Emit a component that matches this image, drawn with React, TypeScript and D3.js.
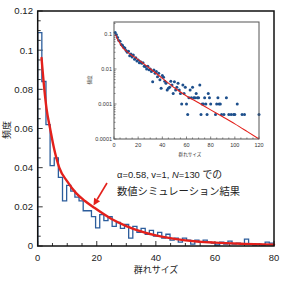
import React from 'react';
import * as d3 from 'd3';

// ---- main histogram (bin width in group-size units) ----
const histBinWidth = 1.4;
const histFreq = [
  0.109, 0.084, 0.062, 0.041, 0.045, 0.035, 0.023, 0.031, 0.028, 0.025,
  0.023, 0.018, 0.018, 0.015, 0.0093, 0.016, 0.013, 0.015, 0.010, 0.012,
  0.009, 0.011, 0.004, 0.010, 0.007, 0.009, 0.006, 0.008, 0.005, 0.007,
  0.004, 0.006, 0.003, 0.004, 0.002, 0.004, 0.003, 0.001, 0.003, 0.002,
  0.003, 0.002, 0.0015, 0.0005, 0.002, 0.001, 0.0025, 0.001, 0.0015, 0.001,
  0.0035, 0.001, 0.0005, 0.001, 0.0005, 0.002, 0.0015,
];

// ---- fitted curve ----
const fitSizes = [1.3, 2.25, 3, 4.2, 5.5, 7.3, 10, 13, 16, 19.2, 25, 30, 40, 50, 60, 70, 80, 90, 100, 110, 120];
const fitFreq = [
  0.096, 0.08, 0.07, 0.06, 0.05, 0.04, 0.033, 0.027, 0.023, 0.0195, 0.0138,
  0.0102, 0.0054, 0.0029, 0.0017, 0.00108, 0.00068, 0.00043, 0.00027, 0.000165, 0.0001,
];

// ---- inset scatter (log scale) ----
const insetSizes = [
  1, 2, 3, 4, 5, 6, 7, 8, 9, 10, 11, 12, 13, 14, 15, 16, 17, 18, 19, 20,
  21, 22, 23, 24, 25, 26, 27, 28, 29, 30, 31, 32, 33, 34, 35, 36, 37, 38, 39, 40,
  41, 42, 43, 44, 45, 46, 47, 48, 49, 50, 51, 52, 53, 54, 55, 56, 57, 58, 59, 60,
  61, 62, 63, 64, 65, 66, 67, 68, 69, 70, 71, 72, 73, 74, 75, 76, 77, 78, 79, 80,
  84, 85, 86, 87, 88, 89, 91, 93, 95, 97, 99, 100, 102, 106, 108, 120,
];
const insetFreq = [
  0.11, 0.095, 0.08, 0.065, 0.062, 0.05, 0.048, 0.042, 0.04, 0.034,
  0.03, 0.032, 0.024, 0.027, 0.022, 0.025, 0.019, 0.021, 0.017, 0.018,
  0.015, 0.016, 0.0146, 0.015, 0.012, 0.0117, 0.01, 0.012, 0.0095, 0.01,
  0.0085, 0.0043, 0.0094, 0.0076, 0.0085, 0.006, 0.0075, 0.0049, 0.0028, 0.0065,
  0.0058, 0.0045, 0.0039, 0.0025, 0.0028, 0.003, 0.0045, 0.0035, 0.002, 0.0043,
  0.0025, 0.003, 0.0039, 0.0025, 0.002, 0.001, 0.0035, 0.002, 0.003, 0.001,
  0.0005, 0.0015, 0.0025, 0.0015, 0.003, 0.0015, 0.0015, 0.002, 0.0015, 0.0015,
  0.0035, 0.0005, 0.001, 0.001, 0.0015, 0.001, 0.0005, 0.002, 0.0015, 0.001,
  0.0005, 0.001, 0.0015, 0.001, 0.001, 0.0005, 0.0005, 0.0015, 0.0005, 0.0005,
  0.0005, 0.0005, 0.001, 0.0005, 0.0005, 0.0005,
];

const mainXTicks = [0, 20, 40, 60, 80];
const mainYTicks = [0, 0.02, 0.04, 0.06, 0.08, 0.1, 0.12];
const mainYTickLabels = ['0', '0.02', '0.04', '0.06', '0.08', '0.1', '0.12'];
const insetXTicks = [0, 20, 40, 60, 80, 100, 120];
const insetYTicks = [0.0001, 0.001, 0.01, 0.1];
const insetYTickLabels = ['0.0001', '0.001', '0.01', '0.1'];

const xTitle = '群れサイズ';
const yTitle = '頻度';
const noteLine1a = 'α=0.58, v=1, ';
const noteLine1N = 'N';
const noteLine1b = '=130 ';
const noteLine1c = 'での';
const noteLine2 = '数値シミュレーション結果';

const LATIN = '"Liberation Sans", Arial, Helvetica, sans-serif';
const CJK = '"Noto Sans CJK JP", "Noto Sans", sans-serif';
const BLUE = '#2c5d9c';
const DOT = '#1d4f8c';
const RED = '#e3201b';

export default function App() {
  const W = 283, H = 286;
  const x = d3.scaleLinear().domain([0, 80]).range([37.7, 274]);
  const y = d3.scaleLinear().domain([0, 0.12]).range([246, 11]);

  const ix = d3.scaleLinear().domain([0, 120]).range([114, 259]);
  const iy = d3.scaleLog().domain([0.0001, 0.22]).range([139, 22]);

  // histogram outline path
  let hp = `M${x(0)},${y(0)}`;
  histFreq.forEach((v, i) => {
    const x1 = Math.min(80, (i + 1) * histBinWidth);
    hp += `V${y(v)}H${x(x1)}`;
  });

  const mainFitPts = fitSizes.map((s, i) => [s, fitFreq[i]] as [number, number]).filter((p) => p[0] <= 80);
  const mainFit = d3.line<[number, number]>().x((d) => x(d[0])).y((d) => y(d[1])).curve(d3.curveMonotoneX)(mainFitPts) || '';
  const insetFitPts = fitSizes.map((s, i) => [s, fitFreq[i]] as [number, number]);
  const insetFit = d3.line<[number, number]>().x((d) => ix(d[0])).y((d) => iy(d[1])).curve(d3.curveMonotoneX)(insetFitPts) || '';

  const xMinor = d3.range(0, 81, 5);
  const yMinor = d3.range(0, 0.1201, 0.005);
  const ixMinor = d3.range(0, 121, 5);
  const iyMinor: number[] = [];
  [0.0001, 0.001, 0.01, 0.1].forEach((dec) => {
    for (let k = 1; k <= 9; k++) {
      const v = dec * k;
      if (v <= 0.22) iyMinor.push(v);
    }
  });

  // arrow
  const a0 = [107, 183], a1 = [93.5, 205.5];
  const ang = Math.atan2(a1[1] - a0[1], a1[0] - a0[0]);
  const ah = 7, aw = 3.5;
  const bx = a1[0] - ah * Math.cos(ang), by = a1[1] - ah * Math.sin(ang);
  const arrowHead = `M${a1[0]},${a1[1]}L${bx + aw * Math.sin(ang)},${by - aw * Math.cos(ang)}L${bx - aw * Math.sin(ang)},${by + aw * Math.cos(ang)}Z`;

  return (
    <svg width={W} height={H} style={{ position: 'absolute', left: 0, top: 0, background: '#fff' }}>
      <rect x={0} y={0} width={W} height={H} fill="#fff" />
      {/* main axes ticks */}
      {yMinor.map((v, i) => (
        <line key={'ym' + i} x1={x(0)} x2={x(0) + (Math.abs(v / 0.02 - Math.round(v / 0.02)) < 1e-6 ? 5 : 3)} y1={y(v)} y2={y(v)} stroke="#000" strokeWidth={0.8} />
      ))}
      {xMinor.map((v) => (
        <line key={'xm' + v} x1={x(v)} x2={x(v)} y1={y(0)} y2={y(0) - (v % 20 === 0 ? 5 : 3)} stroke="#000" strokeWidth={0.8} />
      ))}
      {/* histogram */}
      <path d={hp} fill="none" stroke={BLUE} strokeWidth={1.3} strokeLinejoin="miter" />
      {/* fit */}
      <path d={mainFit} fill="none" stroke={RED} strokeWidth={2.4} strokeLinecap="round" />
      {/* main frame */}
      <rect x={x(0)} y={y(0.12)} width={x(80) - x(0)} height={y(0) - y(0.12)} fill="none" stroke="#111" strokeWidth={1.5} />
      {mainYTicks.map((v, i) => (
        <text key={'yl' + i} x={33} y={y(v) + 3.4} textAnchor="end" fontFamily={LATIN} fontSize={9.6} fill="#222">{mainYTickLabels[i]}</text>
      ))}
      {mainXTicks.map((v) => (
        <text key={'xl' + v} x={x(v)} y={261} textAnchor="middle" fontFamily={LATIN} fontSize={9.4} fill="#222">{v}</text>
      ))}
      <text x={156} y={272.5} textAnchor="middle" fontFamily={CJK} fontSize={9} fill="#222">{xTitle}</text>
      <text transform={`translate(9.5,130) rotate(-90)`} textAnchor="middle" fontFamily={CJK} fontSize={9} fill="#222">{yTitle}</text>

      {/* inset */}
      <rect x={ix(0)} y={iy(0.22)} width={ix(120) - ix(0)} height={iy(0.0001) - iy(0.22)} fill="#fff" />
      {ixMinor.map((v) => (
        <line key={'ixm' + v} x1={ix(v)} x2={ix(v)} y1={iy(0.0001)} y2={iy(0.0001) - (v % 20 === 0 ? 2.5 : 1.5)} stroke="#333" strokeWidth={0.6} />
      ))}
      {iyMinor.map((v, i) => (
        <line key={'iym' + i} x1={ix(0)} x2={ix(0) + (insetYTicks.some((t) => Math.abs(t - v) / t < 1e-6) ? 2.5 : 1.5)} y1={iy(v)} y2={iy(v)} stroke="#333" strokeWidth={0.6} />
      ))}
      {insetSizes.map((s, i) => (
        <circle key={'d' + i} cx={ix(s)} cy={iy(insetFreq[i])} r={1.5} fill={DOT} />
      ))}
      <path d={insetFit} fill="none" stroke={RED} strokeWidth={1.1} />
      <rect x={ix(0)} y={iy(0.22)} width={ix(120) - ix(0)} height={iy(0.0001) - iy(0.22)} fill="none" stroke="#555" strokeWidth={1} />
      {insetYTicks.map((v, i) => (
        <text key={'iyl' + i} x={112} y={iy(v) + 1.9} textAnchor="end" fontFamily={LATIN} fontSize={5.5} fill="#333">{insetYTickLabels[i]}</text>
      ))}
      {insetXTicks.map((v) => (
        <text key={'ixl' + v} x={ix(v)} y={147} textAnchor="middle" fontFamily={LATIN} fontSize={5.5} fill="#333">{v}</text>
      ))}
      <text x={190} y={155.5} textAnchor="middle" fontFamily={CJK} fontSize={4.6} fill="#333">{xTitle}</text>
      <text transform={`translate(91,80) rotate(-90)`} textAnchor="middle" fontFamily={CJK} fontSize={4.6} fill="#333">{yTitle}</text>

      {/* annotation */}
      <text x={117} y={177.5} fontFamily={LATIN} fontSize={9.4} fill="#222">
        <tspan>{noteLine1a}</tspan>
        <tspan fontStyle="italic">{noteLine1N}</tspan>
        <tspan>{noteLine1b}</tspan>
        <tspan fontFamily={CJK} fontSize={9.8}>{noteLine1c}</tspan>
      </text>
      <text x={117} y={194.5} fontFamily={CJK} fontSize={10.3} fill="#222">{noteLine2}</text>
      <line x1={a0[0]} y1={a0[1]} x2={bx} y2={by} stroke={RED} strokeWidth={1.6} />
      <path d={arrowHead} fill={RED} />
    </svg>
  );
}
